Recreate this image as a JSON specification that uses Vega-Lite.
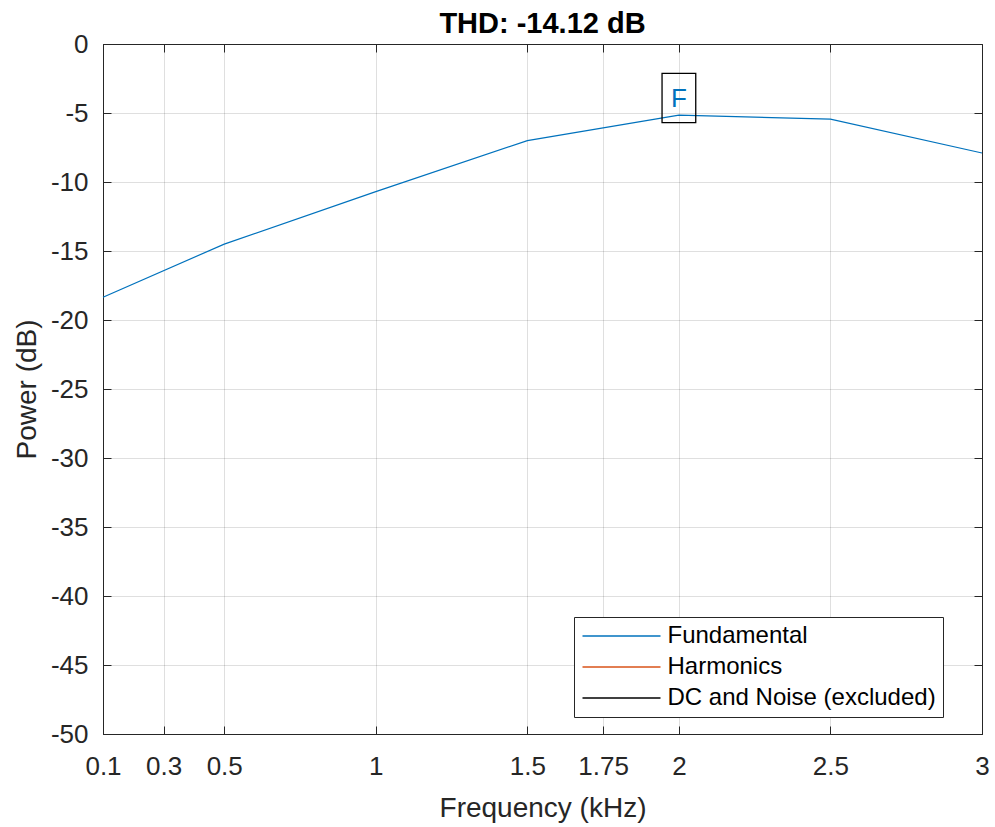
{
  "$schema": "https://vega.github.io/schema/vega-lite/v6.json",
  "width": 879,
  "height": 690,
  "autosize": {"type": "none"},
  "padding": {"left": 103, "top": 44, "right": 13, "bottom": 93},
  "background": "white",
  "title": {"text": "THD: -14.12 dB", "fontSize": 29, "fontWeight": "bold", "font": "Liberation Sans", "color": "#000000", "anchor": "middle", "baseline": "alphabetic", "offset": -31},
  "config": {
    "view": {"stroke": "#262626", "strokeWidth": 1},
    "font": "Liberation Sans"
  },
  "datasets": {
    "fund": [
      {"f": 0.1, "p": -18.35, "series": "Fundamental"},
      {"f": 0.5, "p": -14.5, "series": "Fundamental"},
      {"f": 1.0, "p": -10.7, "series": "Fundamental"},
      {"f": 1.5, "p": -7.0, "series": "Fundamental"},
      {"f": 2.0, "p": -5.15, "series": "Fundamental"},
      {"f": 2.5, "p": -5.45, "series": "Fundamental"},
      {"f": 3.0, "p": -7.9, "series": "Fundamental"}
    ],
    "peak": [{"f": 2.0, "p": -5.15, "label": "F"}]
  },
  "layer": [
    {
      "data": {"name": "fund"},
      "mark": {"type": "line", "strokeWidth": 1.2},
      "encoding": {
        "x": {
          "field": "f", "type": "quantitative",
          "scale": {"domain": [0.1, 3], "nice": false, "zero": false},
          "axis": {
            "orient": "bottom",
            "values": [0.1, 0.3, 0.5, 1, 1.5, 1.75, 2, 2.5, 3],
            "labelExpr": "toString(datum.value)",
            "labelFontSize": 26, "labelColor": "#262626", "labelPadding": 27.5,
            "labelFlush": false, "labelOverlap": false,
            "tickSize": -8, "tickColor": "#262626", "tickWidth": 1,
            "domainColor": "#262626", "domainWidth": 1,
            "grid": true, "gridColor": "#262626", "gridOpacity": 0.15, "gridWidth": 1,
            "title": "Frequency (kHz)", "titleFontSize": 28, "titleFontWeight": "normal", "titleColor": "#262626",
            "titleX": 439.5, "titleY": 82, "titleBaseline": "alphabetic", "titleAlign": "center"
          }
        },
        "y": {
          "field": "p", "type": "quantitative",
          "scale": {"domain": [-50, 0], "nice": false, "zero": false},
          "axis": {
            "orient": "left",
            "values": [-50, -45, -40, -35, -30, -25, -20, -15, -10, -5, 0],
            "labelExpr": "toString(datum.value)",
            "labelFontSize": 26, "labelColor": "#262626", "labelPadding": 23,
            "labelFlush": false, "labelOverlap": false,
            "tickSize": -8, "tickColor": "#262626", "tickWidth": 1,
            "domainColor": "#262626", "domainWidth": 1,
            "grid": true, "gridColor": "#262626", "gridOpacity": 0.15, "gridWidth": 1,
            "title": "Power (dB)", "titleFontSize": 28, "titleFontWeight": "normal", "titleColor": "#262626",
            "titleX": -68, "titleY": 345, "titleBaseline": "alphabetic", "titleAlign": "center"
          }
        },
        "color": {
          "field": "series", "type": "nominal",
          "scale": {"domain": ["Fundamental", "Harmonics", "DC and Noise (excluded)"], "range": ["#0072BD", "#D95319", "#000000"]},
          "legend": {
            "orient": "none", "legendX": 471, "legendY": 573, "title": null,
            "symbolType": "M-3.9,0H3.9", "symbolSize": 400, "symbolStrokeWidth": 1.4, "symbolOpacity": 1,
            "symbolOffset": 28.5, "labelOffset": 34,
            "labelFontSize": 24, "labelFont": "Liberation Sans", "labelColor": "#000000", "labelLimit": 500,
            "padding": 7, "rowPadding": 7,
            "strokeColor": "#262626", "fillColor": "white", "cornerRadius": 0
          }
        }
      }
    },
    {
      "data": {"name": "peak"},
      "mark": {"type": "point", "shape": "M-0.674,-0.986H0.674V0.986H-0.674Z", "size": 2500, "filled": false, "color": "#000000", "strokeWidth": 1.3, "opacity": 1, "yOffset": -17},
      "encoding": {
        "x": {"field": "f", "type": "quantitative",
          "axis": {"orient": "top", "values": [0.1, 0.3, 0.5, 1, 1.5, 1.75, 2, 2.5, 3], "labels": false, "domain": false, "grid": false, "tickSize": -8, "tickColor": "#262626", "title": null}},
        "y": {"field": "p", "type": "quantitative",
          "axis": {"orient": "right", "values": [-50, -45, -40, -35, -30, -25, -20, -15, -10, -5, 0], "labels": false, "domain": false, "grid": false, "tickSize": -8, "tickColor": "#262626", "title": null}}
      }
    },
    {
      "data": {"name": "peak"},
      "mark": {"type": "text", "color": "#0072BD", "fontSize": 26, "font": "Liberation Sans", "dy": -16, "baseline": "middle", "align": "center"},
      "encoding": {
        "x": {"field": "f", "type": "quantitative", "axis": null},
        "y": {"field": "p", "type": "quantitative", "axis": null},
        "text": {"field": "label"}
      }
    }
  ],
  "resolve": {"axis": {"x": "independent", "y": "independent"}}
}
